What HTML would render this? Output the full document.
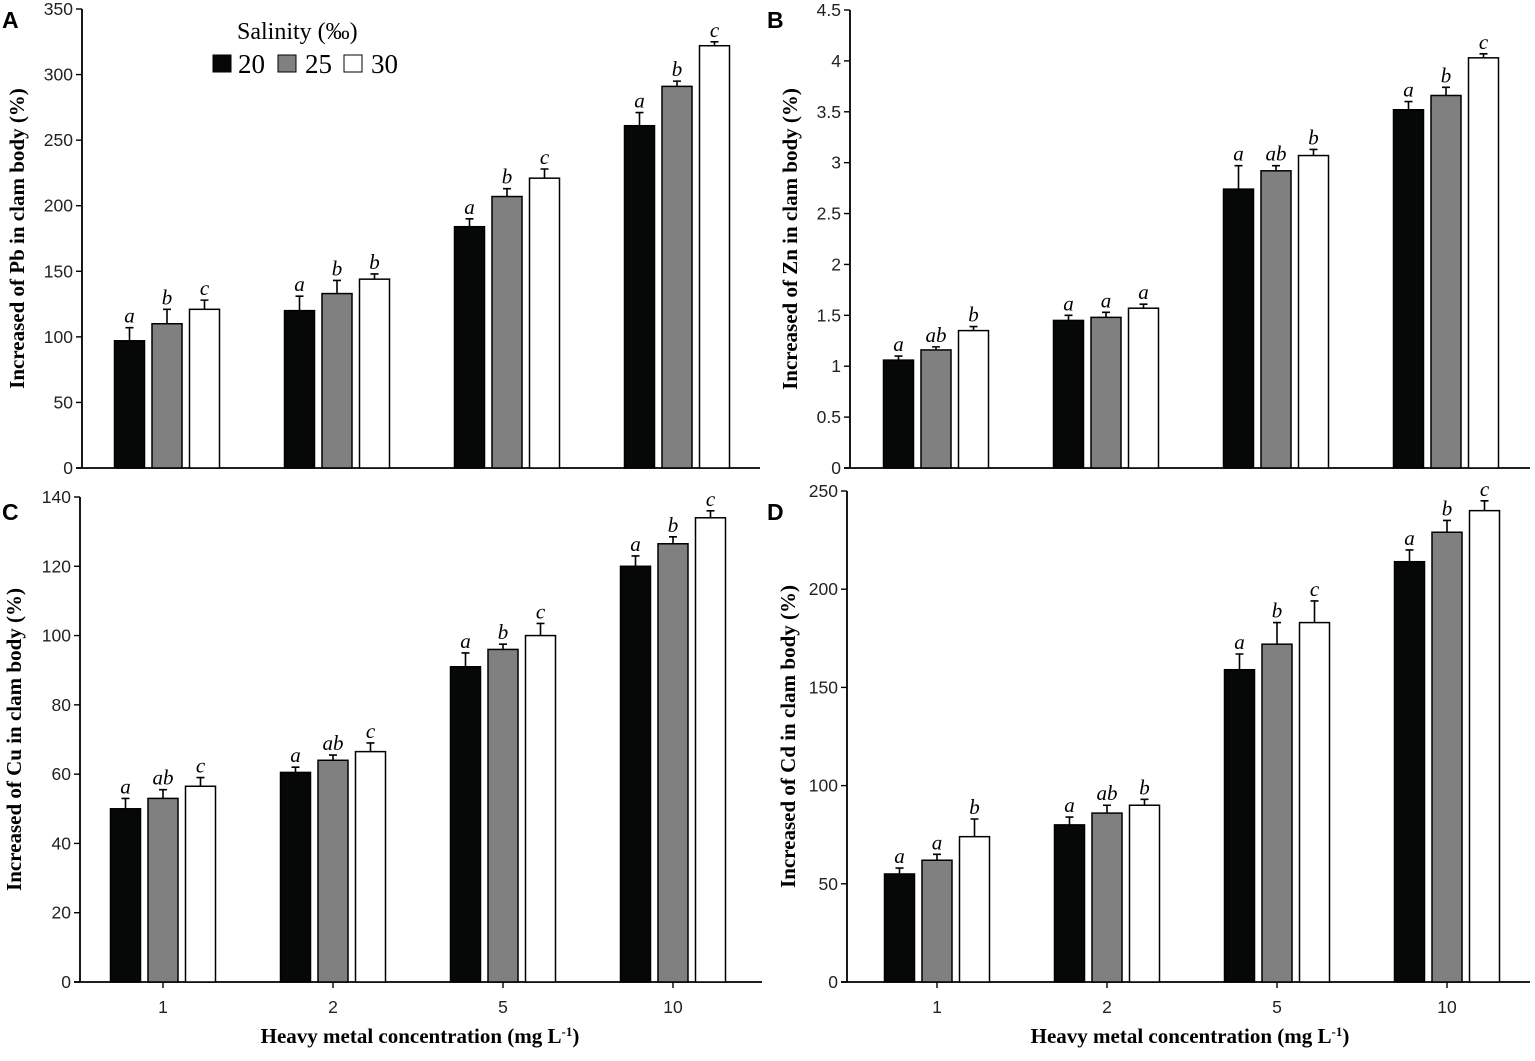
<!DOCTYPE html>
<html><head><meta charset="utf-8"><style>
body{margin:0;background:#fff}
svg text{font-family:"Liberation Sans",sans-serif}
.ser{font-family:"Liberation Serif",serif}
</style></head><body>
<svg id="fig" width="1535" height="1056" viewBox="0 0 1535 1056" xmlns="http://www.w3.org/2000/svg">
<g>
<text class="ser" x="237" y="39" font-size="24">Salinity (‰)</text>
<rect x="213" y="55" width="18" height="17" fill="#060808" stroke="#000"/>
<text class="ser" x="238" y="73" font-size="27">20</text>
<rect x="278" y="55" width="18" height="17" fill="#808080" stroke="#000"/>
<text class="ser" x="305" y="73" font-size="27">25</text>
<rect x="344" y="55" width="18" height="17" fill="#fff" stroke="#000"/>
<text class="ser" x="371" y="73" font-size="27">30</text>
</g>
</svg>
<script>
const categories=["1","2","5","10"];
const seriesNames=["20","25","30"];
const pbS20=[97,120,184,261], pbS25=[110,133,207,291], pbS30=[121,144,221,322];
const pbErr20=[10,11,6,10], pbErr25=[11,10,6,4], pbErr30=[7,4,7,3];
const pbLetters=[["a","a","a","a"],["b","b","b","b"],["c","b","c","c"]];
const znS20=[1.06,1.45,2.74,3.52], znS25=[1.16,1.48,2.92,3.66], znS30=[1.35,1.57,3.07,4.03];
const znErr20=[0.04,0.05,0.23,0.08], znErr25=[0.03,0.05,0.05,0.08], znErr30=[0.04,0.04,0.06,0.04];
const znLetters=[["a","a","a","a"],["ab","a","ab","b"],["b","a","b","c"]];
const cuS20=[50,60.5,91,120], cuS25=[53,64,96,126.5], cuS30=[56.5,66.5,100,134];
const cuErr20=[3,1.5,4,3], cuErr25=[2.5,1.5,1.5,2], cuErr30=[2.5,2.5,3.5,2];
const cuLetters=[["a","a","a","a"],["ab","ab","b","b"],["c","c","c","c"]];
const cdS20=[55,80,159,214], cdS25=[62,86,172,229], cdS30=[74,90,183,240];
const cdErr20=[3,4,8,6], cdErr25=[3,4,11,6], cdErr30=[9,3,11,5];
const cdLetters=[["a","a","a","a"],["a","ab","b","b"],["b","b","c","c"]];
const pbTicks=[0,50,100,150,200,250,300,350];
const znTicks=[0,0.5,1,1.5,2,2.5,3,3.5,4,4.5];
const cuTicks=[0,20,40,60,80,100,120,140];
const cdTicks=[0,50,100,150,200,250];

const NS="http://www.w3.org/2000/svg";
const svg=document.getElementById('fig');
function mk(tag,attrs,parent){const e=document.createElementNS(NS,tag);for(const k in attrs)e.setAttribute(k,attrs[k]);parent.appendChild(e);return e;}
const fills=["#060808","#808080","#ffffff"];

function panel(p){
  const g=mk('g',{},svg);
  
  
  const ymax=p.ticks[p.ticks.length-1];
  const y=v=>p.y0-(v/ymax)*(p.y0-p.ytop);
  const xc=i=>p.x1+i*170;
  const ya=mk('line',{x1:p.ax,y1:p.ytop,x2:p.ax,y2:p.y0,stroke:'#000','stroke-width':1.8},g);
  
  
  const xa=mk('line',{x1:p.ax-6,y1:p.y0,x2:p.xend,y2:p.y0,stroke:'#000','stroke-width':1.8},g);
  
  
  p.ticks.forEach(t=>{
    mk('line',{x1:p.ax-6,y1:y(t),x2:p.ax,y2:y(t),stroke:'#000','stroke-width':1.4},g);
    const tx=mk('text',{x:p.ax-9,y:y(t)+6,'font-size':17.5,'text-anchor':'end',fill:'#222'},g);
    tx.textContent=String(t);
    
    
  });
  const yl=mk('text',{class:'ser',x:0,y:0,'font-size':21,'font-weight':'bold','text-anchor':'middle',transform:`translate(${p.ylx},${(p.ytop+p.y0)/2}) rotate(-90)`},g);
  yl.textContent=p.ylabel;
  
  
  const pl=mk('text',{x:p.lx,y:p.ly,'font-size':23,'font-weight':'bold'},g);
  pl.textContent=p.letter;
  
  
  categories.forEach((c,i)=>{
    if(p.xlabels){
      mk('line',{x1:xc(i),y1:p.y0,x2:xc(i),y2:p.y0+6,stroke:'#000','stroke-width':1.4},g);
      const t=mk('text',{x:xc(i),y:p.y0+31,'font-size':17.5,'text-anchor':'middle',fill:'#222'},g);
      t.textContent=c;
      
      
    }
    p.series.forEach((s,j)=>{
      const cx=xc(i)+(j-1)*37.5, w=30, top=y(s[i]);
      const r=mk('rect',{x:cx-w/2,y:top,width:w,height:p.y0-top,fill:fills[j],stroke:'#000','stroke-width':1.5},g);
      
      
      const et=y(s[i]+p.errs[j][i]);
      const e=mk('path',{d:`M${cx} ${top}V${et}M${cx-4} ${et}H${cx+4}`,stroke:'#000','stroke-width':1.6,fill:'none'},g);
      
      
      const lt=mk('text',{class:'ser',x:cx,y:et-5,'font-size':21,'font-style':'italic','text-anchor':'middle'},g);
      lt.textContent=p.letters[j][i];
      
      
    });
  });
  if(p.xtitle){
    const xt=mk('text',{class:'ser',x:p.xtx,y:1043,'font-size':21,'font-weight':'bold','text-anchor':'middle'},g);
    xt.textContent='Heavy metal concentration (mg L';
    const sp=mk('tspan',{dy:-7,'font-size':13},xt);sp.textContent='-1';
    const sp2=mk('tspan',{dy:7},xt);sp2.textContent=')';
    
    
  }
}
panel({name:'panel-a-pb',letter:'A',lx:2,ly:28,ax:82,ytop:9,y0:468,xend:760,x1:167,ticks:pbTicks,series:[pbS20,pbS25,pbS30],errs:[pbErr20,pbErr25,pbErr30],letters:pbLetters,ylabel:'Increased of Pb in clam body (%)',ylx:24,xlabels:false});
panel({name:'panel-b-zn',letter:'B',lx:767,ly:28,ax:850,ytop:10,y0:468,xend:1530,x1:936,ticks:znTicks,series:[znS20,znS25,znS30],errs:[znErr20,znErr25,znErr30],letters:znLetters,ylabel:'Increased of Zn in clam body (%)',ylx:797,xlabels:false});
panel({name:'panel-c-cu',letter:'C',lx:2,ly:520,ax:80,ytop:497,y0:982,xend:762,x1:163,ticks:cuTicks,series:[cuS20,cuS25,cuS30],errs:[cuErr20,cuErr25,cuErr30],letters:cuLetters,ylabel:'Increased of Cu in clam body (%)',ylx:21,xlabels:true,xtitle:true,xtx:420});
panel({name:'panel-d-cd',letter:'D',lx:767,ly:520,ax:847,ytop:491,y0:982,xend:1530,x1:937,ticks:cdTicks,series:[cdS20,cdS25,cdS30],errs:[cdErr20,cdErr25,cdErr30],letters:cdLetters,ylabel:'Increased of Cd in clam body (%)',ylx:795,xlabels:true,xtitle:true,xtx:1190});
</script>
</body></html>
